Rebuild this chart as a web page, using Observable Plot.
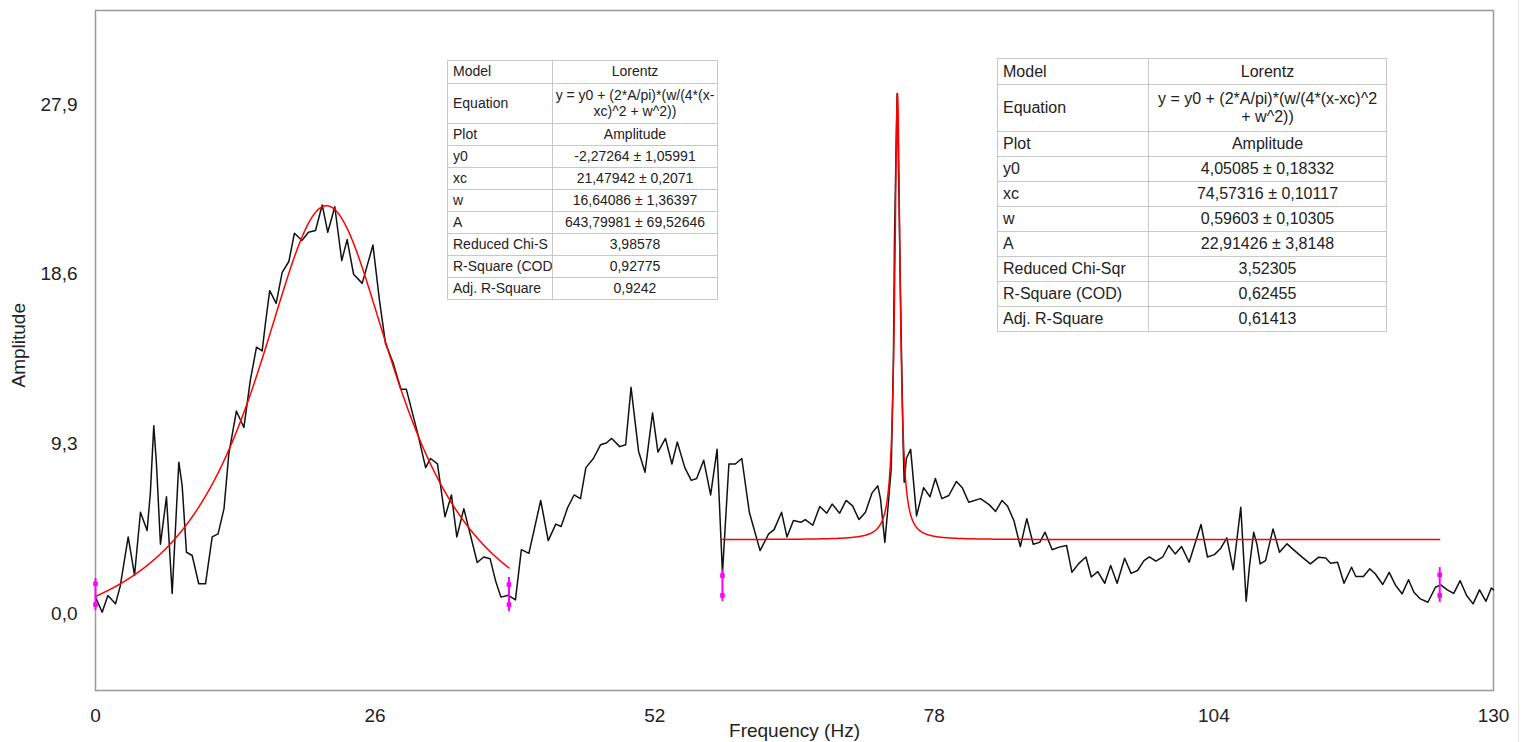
<!DOCTYPE html>
<html>
<head>
<meta charset="utf-8">
<script src="https://cdn.jsdelivr.net/npm/d3@7"></script>
<script src="https://cdn.jsdelivr.net/npm/@observablehq/plot@0.6"></script>
<style>
  html, body { margin:0; padding:0; background:#fff; }
  #wrap { position:relative; width:1523px; height:742px; overflow:hidden; font-family:"Liberation Sans", Arial, sans-serif; }
  #edge { position:absolute; left:1518px; top:0; width:1px; height:742px; background:#e4e4e4; }
  table.fit { position:absolute; border-collapse:collapse; border:1.5px solid #222; table-layout:fixed; background:#fff; color:#222; }
  table.fit td { border:1px solid #c8c8c8; padding:0 0 0 5px; white-space:nowrap; overflow:hidden; line-height:1.12; }
  table.fit td.v { text-align:center; padding:0; }
  #t1 { left:447px; top:60px; width:270px; font-size:14px; }
  #t2 { left:997px; top:58px; width:389px; font-size:16px; }
</style>
</head>
<body>
<div id="wrap"><div id="edge"></div></div>
<script>
// ---- data: measured spectrum (Frequency Hz, Amplitude) ----
const freq = [0,0.62,1.15,1.86,2.3,3.04,3.63,4.18,4.8,5.1,5.42,5.67,6.04,6.6,7.13,7.75,8.06,8.46,8.99,9.6,10.23,10.85,11.4,11.95,12.4,13.1,13.8,14.4,14.97,15.5,15.8,16.2,16.8,17.36,17.98,18.5,19.2,19.8,20.46,21.08,21.6,22.25,22.9,23.4,24.0,24.8,25.8,26.4,26.97,27.7,28.4,28.9,29.97,30.7,31.15,31.8,32.5,33.1,33.6,34.25,35.5,36.1,36.7,37.2,37.7,38.4,39.05,39.6,40.3,41.4,42.1,42.8,43.3,43.9,44.5,45.1,45.6,46.3,46.96,47.5,48.0,48.75,49.3,49.8,50.5,51.1,51.8,52.3,53.0,53.6,54.1,54.8,55.4,55.9,56.56,57.2,57.8,58.3,58.9,59.5,60.1,60.8,61.8,62.6,63.1,63.8,64.3,64.9,65.6,66.0,66.7,67.35,68.0,68.5,69.2,69.8,70.4,71.0,71.6,72.2,72.75,73.0,73.4,73.7,74.0,74.2,74.3,74.45,74.55,74.7,74.85,75.0,75.1,75.2,75.4,75.8,76.35,77.0,77.6,78.1,78.7,79.35,80.06,80.6,81.2,82.3,83.1,83.7,84.3,84.8,85.4,86.0,86.6,87.2,87.8,88.3,88.96,89.6,90.3,90.8,91.4,92.1,92.6,93.2,93.85,94.4,95.0,95.7,96.3,96.9,97.5,98.0,98.6,99.25,99.8,100.4,101.0,101.7,102.8,103.4,104.05,104.6,105.2,105.8,106.5,107.0,107.3,107.7,108.0,108.3,108.8,109.5,110.1,110.8,111.5,112.2,112.97,113.75,114.4,114.85,115.5,116.1,116.8,117.2,117.9,118.5,119.0,119.7,120.3,120.9,121.5,122.1,122.6,123.2,123.9,124.6,125.1,125.7,126.3,126.9,127.5,128.1,128.7,129.3,129.8,130];
const amplitude = [0.9,0.07,0.99,0.53,1.5,4.2,2.1,5.55,4.55,6.6,10.3,8.2,3.8,6.4,1.1,8.3,7.0,3.36,3.18,1.63,1.63,4.2,4.37,5.75,8.77,11.1,10.2,12.8,14.6,14.4,15.9,17.7,17.0,18.7,19.3,20.85,20.45,20.9,21.0,22.4,20.9,22.3,19.35,20.5,18.6,18.1,20.2,17.2,14.8,13.7,12.3,12.3,9.85,8.0,8.5,8.2,5.3,6.5,4.2,5.75,2.8,3.1,3.0,1.8,0.9,1.0,0.75,3.5,3.3,6.2,4.0,4.9,4.77,5.8,6.5,6.3,8.0,8.5,9.25,9.35,9.6,9.15,9.25,12.4,8.9,7.75,11.0,8.85,9.6,8.2,9.4,8.0,7.3,7.4,8.4,6.5,9.0,2.2,8.2,8.2,8.5,5.55,3.45,4.37,4.6,5.55,4.2,5.1,5.0,5.15,4.84,5.87,5.5,6.0,5.5,6.2,5.9,5.15,5.55,6.6,7.0,6.27,3.9,5.87,8.0,14.0,20.5,25.7,28.5,23.4,17.7,12.6,9.3,7.2,8.5,9.0,5.35,6.9,6.4,7.4,6.3,6.47,7.24,6.9,6.1,6.3,5.97,5.6,6.2,5.9,5.1,3.67,5.2,3.8,3.9,4.46,3.5,3.64,3.73,2.26,2.72,3.1,2.0,2.3,1.66,2.63,1.66,3.03,2.2,2.36,2.9,3.1,2.87,3.1,3.73,3.27,3.67,2.81,4.88,3.1,3.23,3.55,4.15,2.4,5.83,0.67,2.54,4.46,3.8,2.72,2.9,4.64,3.36,3.82,3.45,3.09,2.72,3.09,3.05,2.76,2.81,1.66,2.54,2.03,2.03,2.45,2.18,1.59,2.26,1.54,1.08,1.85,1.17,0.8,0.62,1.44,1.57,1.3,1.1,1.8,0.99,0.53,1.3,0.67,1.4,1.3];

// ---- Lorentz fit results (from the fit tables) ----
const fitY0 = [-2.27264, 4.05085];
const fitXc = [21.47942, 74.57316];
const fitW  = [16.64086, 0.59603];
const fitA  = [643.79981, 22.91426];
const fitStart = [0, 58.3];
const fitEnd   = [38.45, 125.0];

// ---- data-reader markers (magenta) ----
const markerFreq  = [0, 38.45, 58.3, 125.0];
const markerTop   = [1.92, 1.97, 2.41, 2.52];
const markerBot   = [0.16, 0.11, 0.66, 0.60];
const markerDotHi = [1.63, 1.59, 2.08, 2.12];
const markerDotLo = [0.49, 0.49, 0.99, 0.99];

// ---- axes ----
const xTicks = [0, 26, 52, 78, 104, 130];
const yTicks = [0, 9.3, 18.6, 27.9];
const xLabel = "Frequency (Hz)";
const yLabel = "Amplitude";

// ---- fit tables (label column as visible in each table) ----
const table1Labels = ["Model","Equation","Plot","y0","xc","w","A","Reduced Chi-S","R-Square (COD","Adj. R-Square"];
const table2Labels = ["Model","Equation","Plot","y0","xc","w","A","Reduced Chi-Sqr","R-Square (COD)","Adj. R-Square"];
const table1Values = ["Lorentz","y = y0 + (2*A/pi)*(w/(4*(x-<br>xc)^2 + w^2))","Amplitude","-2,27264 ± 1,05991","21,47942 ± 0,2071","16,64086 ± 1,36397","643,79981 ± 69,52646","3,98578","0,92775","0,9242"];
const table2Values = ["Lorentz","y = y0 + (2*A/pi)*(w/(4*(x-xc)^2<br>+ w^2))","Amplitude","4,05085 ± 0,18332","74,57316 ± 0,10117","0,59603 ± 0,10305","22,91426 ± 3,8148","3,52305","0,62455","0,61413"];

const series = freq.map((f, i) => ({f, a: amplitude[i]}));

const fits = [];
for (let k = 0; k < fitY0.length; k++) {
  const step = 0.01;
  const n = Math.round((fitEnd[k] - fitStart[k]) / step);
  for (let j = 0; j <= n; j++) {
    const x = fitStart[k] + j * step;
    const y = fitY0[k] + (2 * fitA[k] / Math.PI) * (fitW[k] / (4 * (x - fitXc[k]) ** 2 + fitW[k] ** 2));
    fits.push({k, x, y});
  }
}
const markers = markerFreq.map((f, i) => ({f, top: markerTop[i], bot: markerBot[i], hi: markerDotHi[i], lo: markerDotLo[i]}));
const markerDots = markers.flatMap(m => [{f: m.f, v: m.hi}, {f: m.f, v: m.lo}]);

const fmt = d => d.toFixed(1).replace(".", ",");

const chart = Plot.plot({
  width: 1523,
  height: 742,
  marginLeft: 95,
  marginRight: 30,
  marginTop: 10,
  marginBottom: 52,
  style: {fontFamily: "'Liberation Sans', Arial, sans-serif", fontSize: "19px", color: "#222", background: "transparent"},
  x: {domain: [0, 130]},
  y: {domain: [-4.22, 33.06]},
  marks: [
    Plot.frame({stroke: "#9a9a9a", strokeWidth: 1.5}),
    Plot.axisX({ticks: xTicks, tickSize: 0, tickPadding: 18, tickFormat: d => String(d), label: null}),
    Plot.axisY({ticks: yTicks, tickSize: 0, tickPadding: 18, tickFormat: fmt, label: null}),
    Plot.line(series, {x: "f", y: "a", stroke: "#111", strokeWidth: 1.5}),
    Plot.line(fits, {x: "x", y: "y", z: "k", stroke: "#ff0000", strokeWidth: 1.5}),
    Plot.ruleX(markers, {x: "f", y1: "bot", y2: "top", stroke: "#ff00ff", strokeWidth: 2}),
    Plot.dot(markerDots, {x: "f", y: "v", symbol: "square", r: 2.6, fill: "#ff00ff", stroke: "none"}),
    Plot.text([xLabel], {frameAnchor: "bottom", dy: 46, text: d => d}),
    Plot.text([yLabel], {frameAnchor: "left", dx: -77, dy: 37, rotate: -90, text: d => d})
  ]
});
const wrap = document.getElementById("wrap");
wrap.appendChild(chart);

function buildTable(id, labels, values, widths, rowH, eqH, modelH) {
  const t = document.createElement("table");
  t.className = "fit";
  t.id = id;
  const cg = document.createElement("colgroup");
  widths.forEach(w => { const c = document.createElement("col"); c.style.width = w + "px"; cg.appendChild(c); });
  t.appendChild(cg);
  labels.forEach((lab, i) => {
    const tr = document.createElement("tr");
    tr.style.height = (i === 0 ? modelH : i === 1 ? eqH : rowH) + "px";
    const a = document.createElement("td"); a.textContent = lab;
    const b = document.createElement("td"); b.className = "v"; b.innerHTML = values[i];
    tr.appendChild(a); tr.appendChild(b); t.appendChild(tr);
  });
  wrap.appendChild(t);
}
buildTable("t1", table1Labels, table1Values, [105, 165], 22, 40, 23);
buildTable("t2", table2Labels, table2Values, [151, 238], 25, 47, 26);
</script>
</body>
</html>
